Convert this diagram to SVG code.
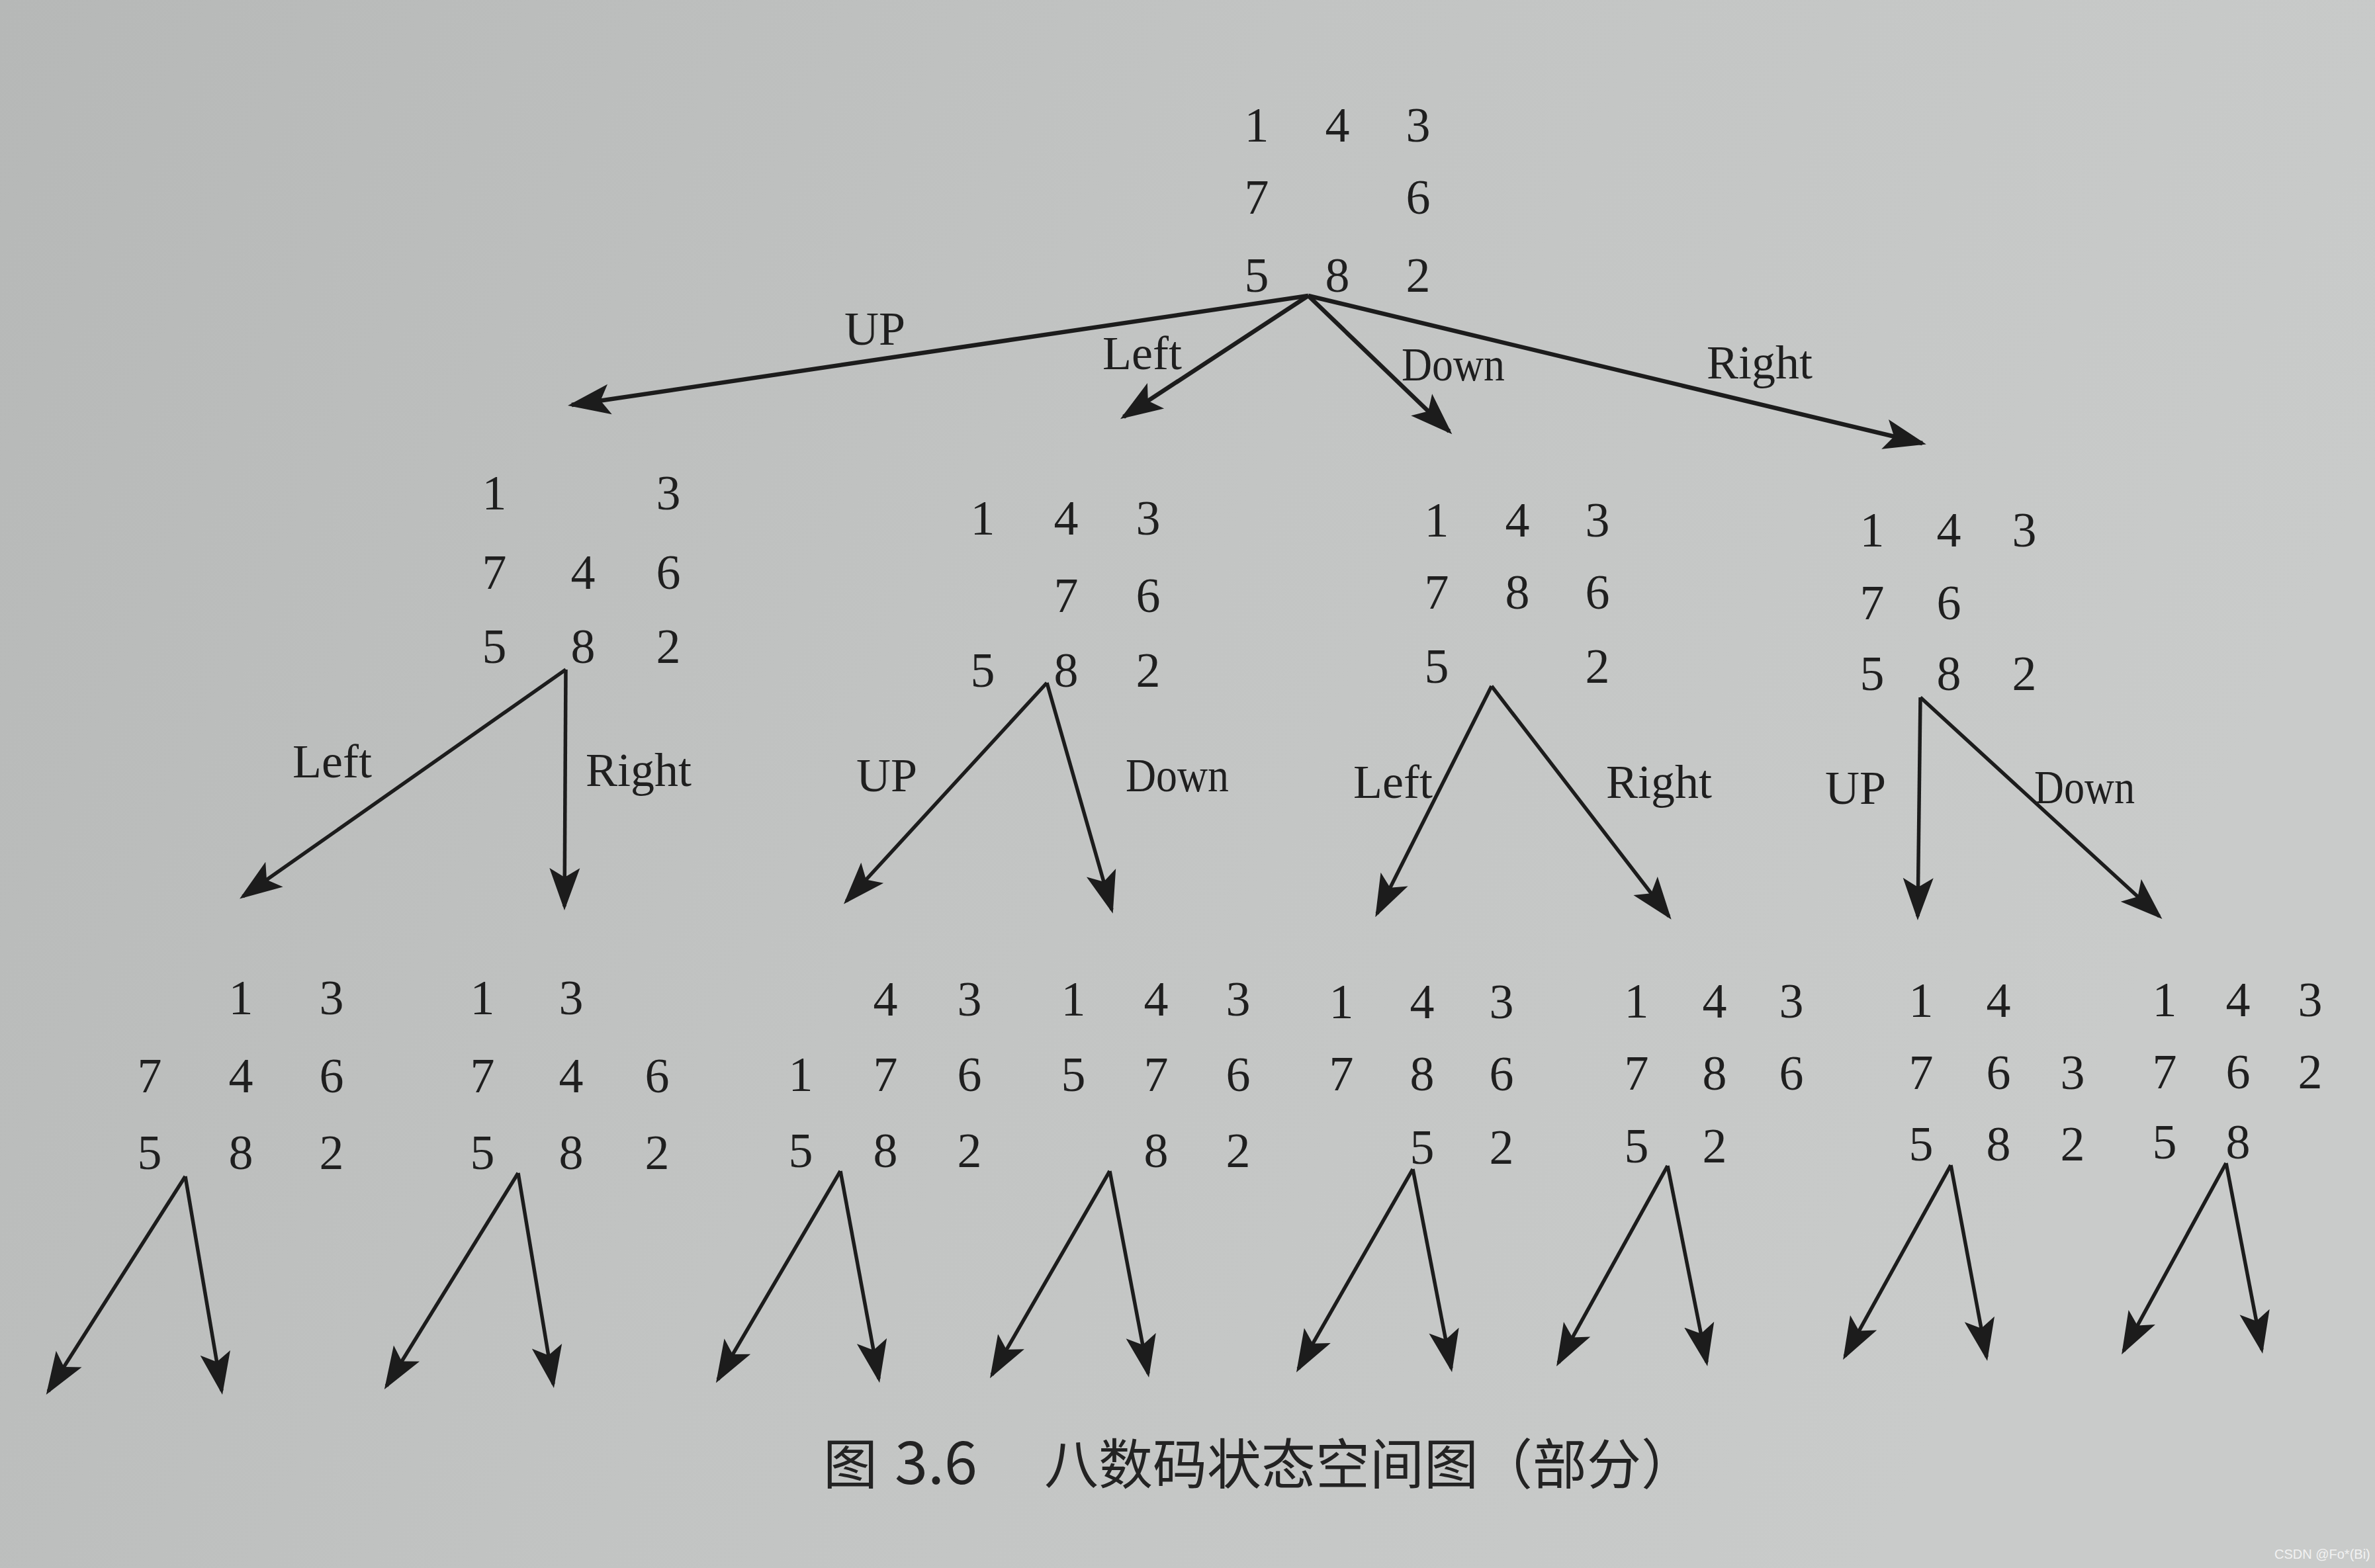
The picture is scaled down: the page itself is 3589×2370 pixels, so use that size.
<svg xmlns="http://www.w3.org/2000/svg" width="3589" height="2370" viewBox="0 0 3589 2370">
<defs>
<linearGradient id="bg" x1="0" y1="0" x2="1" y2="0.3">
<stop offset="0" stop-color="#b6b8b7"/>
<stop offset="0.5" stop-color="#c2c4c3"/>
<stop offset="1" stop-color="#c9cbca"/>
</linearGradient>
<marker id="ah" markerUnits="userSpaceOnUse" markerWidth="70" markerHeight="56" viewBox="0 0 70 56" refX="58" refY="28" orient="auto">
<path d="M0,5 L64,28 L0,51 L14,28 Z" fill="#1c1c1c"/>
</marker>
<style>
.d{font-family:"Liberation Serif","Times New Roman",serif;font-size:74px;fill:#1f1f1f;text-anchor:middle}
.l{font-family:"Liberation Serif","Times New Roman",serif;font-size:72px;fill:#1f1f1f;text-anchor:middle}
.c{font-family:"Noto Sans CJK SC","Noto Sans",sans-serif;font-size:82px;font-weight:400;fill:#232323}
.w{font-family:"Liberation Sans",Arial,sans-serif;font-size:20px;fill:#f2f2f2}
.e line{stroke:#1c1c1c;stroke-width:5.5;marker-end:url(#ah)}
.e .t{stroke-width:6.5}
</style>
</defs>
<rect width="3589" height="2370" fill="url(#bg)"/>

<g id="connectors" class="e">
<line class="t" x1="1977" y1="447" x2="864" y2="612"/>
<line class="t" x1="1977" y1="447" x2="1698" y2="630"/>
<line class="t" x1="1977" y1="447" x2="2190" y2="652"/>
<line class="t" x1="1977" y1="447" x2="2905" y2="670"/>
<line x1="855" y1="1012" x2="367" y2="1355"/>
<line x1="855" y1="1012" x2="853" y2="1370"/>
<line x1="1582" y1="1032" x2="1279" y2="1362"/>
<line x1="1582" y1="1032" x2="1680" y2="1375"/>
<line x1="2254" y1="1037" x2="2081" y2="1381"/>
<line x1="2254" y1="1037" x2="2522" y2="1385"/>
<line x1="2902" y1="1054" x2="2898" y2="1385"/>
<line x1="2902" y1="1054" x2="3263" y2="1385"/>
<line x1="280" y1="1778" x2="73" y2="2103"/>
<line x1="280" y1="1778" x2="335" y2="2102"/>
<line x1="783" y1="1773" x2="584" y2="2095"/>
<line x1="783" y1="1773" x2="836" y2="2092"/>
<line x1="1270" y1="1770" x2="1085" y2="2085"/>
<line x1="1270" y1="1770" x2="1328" y2="2084"/>
<line x1="1677" y1="1770" x2="1499" y2="2078"/>
<line x1="1677" y1="1770" x2="1735" y2="2076"/>
<line x1="2135" y1="1767" x2="1962" y2="2069"/>
<line x1="2135" y1="1767" x2="2193" y2="2068"/>
<line x1="2520" y1="1762" x2="2355" y2="2060"/>
<line x1="2520" y1="1762" x2="2579" y2="2059"/>
<line x1="2948" y1="1761" x2="2788" y2="2050"/>
<line x1="2948" y1="1761" x2="3002" y2="2051"/>
<line x1="3364" y1="1758" x2="3209" y2="2042"/>
<line x1="3364" y1="1758" x2="3418" y2="2040"/>
</g>

<g id="edge-labels">
<text class="l" x="1322" y="521">UP</text>
<text class="l" x="1726" y="558">Left</text>
<text class="l" x="2196" y="575" textLength="156" lengthAdjust="spacingAndGlyphs">Down</text>
<text class="l" x="2659" y="572">Right</text>
<text class="l" x="502" y="1175">Left</text>
<text class="l" x="965" y="1188">Right</text>
<text class="l" x="1340" y="1196">UP</text>
<text class="l" x="1779" y="1196" textLength="156" lengthAdjust="spacingAndGlyphs">Down</text>
<text class="l" x="2105" y="1206">Left</text>
<text class="l" x="2507" y="1206">Right</text>
<text class="l" x="2804" y="1215">UP</text>
<text class="l" x="3150" y="1214" textLength="152" lengthAdjust="spacingAndGlyphs">Down</text>
</g>

<g id="root" class="d">
<text x="1899" y="214">1</text><text x="2021" y="214">4</text><text x="2143" y="214">3</text>
<text x="1899" y="323">7</text><text x="2143" y="323">6</text>
<text x="1899" y="441">5</text><text x="2021" y="441">8</text><text x="2143" y="441">2</text>
</g>

<g id="n-up" class="d">
<text x="747" y="770">1</text><text x="1010" y="770">3</text>
<text x="747" y="890">7</text><text x="881" y="890">4</text><text x="1010" y="890">6</text>
<text x="747" y="1002">5</text><text x="881" y="1002">8</text><text x="1010" y="1002">2</text>
</g>

<g id="n-left" class="d">
<text x="1485" y="808">1</text><text x="1611" y="808">4</text><text x="1735" y="808">3</text>
<text x="1611" y="925">7</text><text x="1735" y="925">6</text>
<text x="1485" y="1038">5</text><text x="1611" y="1038">8</text><text x="1735" y="1038">2</text>
</g>

<g id="n-down" class="d">
<text x="2171" y="811">1</text><text x="2293" y="811">4</text><text x="2414" y="811">3</text>
<text x="2171" y="920">7</text><text x="2293" y="920">8</text><text x="2414" y="920">6</text>
<text x="2171" y="1032">5</text><text x="2414" y="1032">2</text>
</g>

<g id="n-right" class="d">
<text x="2829" y="826">1</text><text x="2945" y="826">4</text><text x="3059" y="826">3</text>
<text x="2829" y="936">7</text><text x="2945" y="936">6</text>
<text x="2829" y="1043">5</text><text x="2945" y="1043">8</text><text x="3059" y="1043">2</text>
</g>

<g id="n-up-left" class="d">
<text x="364" y="1533">1</text><text x="501" y="1533">3</text>
<text x="226" y="1651">7</text><text x="364" y="1651">4</text><text x="501" y="1651">6</text>
<text x="226" y="1767">5</text><text x="364" y="1767">8</text><text x="501" y="1767">2</text>
</g>

<g id="n-up-right" class="d">
<text x="729" y="1533">1</text><text x="863" y="1533">3</text>
<text x="729" y="1651">7</text><text x="863" y="1651">4</text><text x="993" y="1651">6</text>
<text x="729" y="1767">5</text><text x="863" y="1767">8</text><text x="993" y="1767">2</text>
</g>

<g id="n-left-up" class="d">
<text x="1338" y="1535">4</text><text x="1465" y="1535">3</text>
<text x="1210" y="1649">1</text><text x="1338" y="1649">7</text><text x="1465" y="1649">6</text>
<text x="1210" y="1764">5</text><text x="1338" y="1764">8</text><text x="1465" y="1764">2</text>
</g>

<g id="n-left-down" class="d">
<text x="1622" y="1535">1</text><text x="1747" y="1535">4</text><text x="1871" y="1535">3</text>
<text x="1622" y="1649">5</text><text x="1747" y="1649">7</text><text x="1871" y="1649">6</text>
<text x="1747" y="1764">8</text><text x="1871" y="1764">2</text>
</g>

<g id="n-down-left" class="d">
<text x="2027" y="1539">1</text><text x="2149" y="1539">4</text><text x="2269" y="1539">3</text>
<text x="2027" y="1648">7</text><text x="2149" y="1648">8</text><text x="2269" y="1648">6</text>
<text x="2149" y="1759">5</text><text x="2269" y="1759">2</text>
</g>

<g id="n-down-right" class="d">
<text x="2473" y="1538">1</text><text x="2591" y="1538">4</text><text x="2707" y="1538">3</text>
<text x="2473" y="1647">7</text><text x="2591" y="1647">8</text><text x="2707" y="1647">6</text>
<text x="2473" y="1757">5</text><text x="2591" y="1757">2</text>
</g>

<g id="n-right-up" class="d">
<text x="2903" y="1537">1</text><text x="3020" y="1537">4</text>
<text x="2903" y="1646">7</text><text x="3020" y="1646">6</text><text x="3132" y="1646">3</text>
<text x="2903" y="1754">5</text><text x="3020" y="1754">8</text><text x="3132" y="1754">2</text>
</g>

<g id="n-right-down" class="d">
<text x="3271" y="1536">1</text><text x="3382" y="1536">4</text><text x="3491" y="1536">3</text>
<text x="3271" y="1645">7</text><text x="3382" y="1645">6</text><text x="3491" y="1645">2</text>
<text x="3271" y="1751">5</text><text x="3382" y="1751">8</text>
</g>

<g id="caption" class="c">
<text x="1244" y="2243">图</text>
<text x="1352" y="2243" font-size="90">3.6</text>
<text x="1578" y="2243">八数码状态空间图（部分）</text>
</g>

<text class="w" x="3437" y="2356">CSDN @Fo*(Bi)</text>
</svg>
